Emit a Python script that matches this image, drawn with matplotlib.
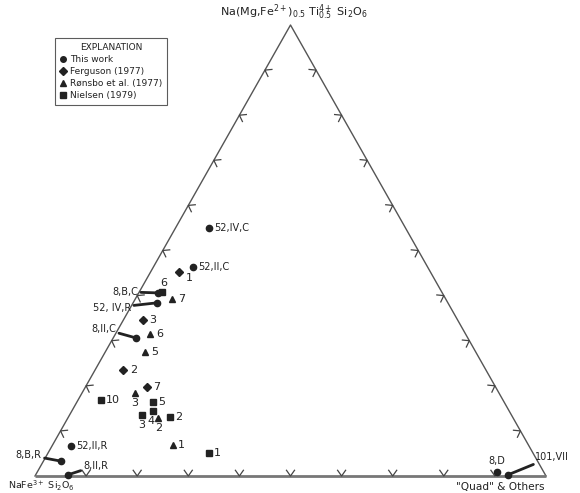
import numpy as np
import matplotlib
matplotlib.use("Agg")
import matplotlib.pyplot as plt
from matplotlib.lines import Line2D

# ---------------- data (percent of apex Ti-component and of "Quad") ----------------
this_labels = ["52,IV,C", "52,II,C", "8,B,C", "52, IV,R", "8,II,C",
               "52,II,R", "8,B,R", "8,II,R", "8,D", "101,VII"]
this_ti     = [55.0, 46.3, 40.6, 38.4, 30.6, 6.7, 3.3, 0.3, 0.9, 0.3]
this_quad   = [6.5, 7.8, 3.8, 4.7, 4.5, 3.7, 3.4, 6.4, 90.0, 92.5]

ferg_labels = ["1", "3", "2", "7"]
ferg_ti     = [45.2, 34.6, 23.5, 19.7]
ferg_quad   = [5.6, 3.8, 5.5, 12.0]

rons_labels = ["7", "6", "5", "3", "2", "1"]
rons_ti     = [39.2, 31.5, 27.5, 18.4, 12.9, 6.9]
rons_quad   = [7.2, 6.8, 7.8, 10.4, 17.6, 23.6]

niel_labels = ["6", "10", "5", "3", "4", "2", "1"]
niel_ti     = [40.8, 16.9, 16.4, 13.5, 14.4, 13.1, 5.1]
niel_quad   = [4.5, 4.5, 14.9, 14.2, 15.9, 19.9, 31.5]

legend_names = ["This work", "Ferguson (1977)", "R\u00f8nsbo et al. (1977)", "Nielsen (1979)"]
tick_fracs = [0.1, 0.2, 0.3, 0.4, 0.5, 0.6, 0.7, 0.8, 0.9]

# ---------------- layout ----------------
W_BASE, H_TRI = 511.0, 451.0   # triangle size in pixels
INK = "#222222"
FONT = "DejaVu Sans"
FS = 7

def to_xy(ti, quad):
    t = np.asarray(ti, float) / 100.0
    q = np.asarray(quad, float) / 100.0
    return (q + t / 2.0) * W_BASE, t * H_TRI

fig = plt.figure(figsize=(5.8, 4.93), dpi=100)
ax = fig.add_axes([0, 0, 1, 1])
ax.set_xlim(-35, 545)
ax.set_ylim(-17, 476)
ax.axis("off")

A = np.array([0.0, 0.0])            # NaFe3+Si2O6
Q = np.array([W_BASE, 0.0])         # Quad
T = np.array([W_BASE / 2, H_TRI])   # apex

ax.plot([A[0], T[0], Q[0]], [A[1], T[1], Q[1]], color="#555555", lw=1.0, zorder=1)
ax.plot([A[0], Q[0]], [A[1], Q[1]], color="#777777", lw=2.0, zorder=1, solid_capstyle="butt")

# chevron ticks
centroid = (A + Q + T) / 3.0
L, th = 7.0, np.deg2rad(35)
for P0, P1 in [(A, Q), (A, T), (T, Q)]:
    d = (P1 - P0) / np.linalg.norm(P1 - P0)
    n = np.array([-d[1], d[0]])
    if np.dot(centroid - P0, n) < 0:
        n = -n
    for f in tick_fracs:
        P = P0 + f * (P1 - P0)
        a1 = P + L * (np.cos(th) * n + np.sin(th) * d)
        a2 = P + L * (np.cos(th) * n - np.sin(th) * d)
        ax.plot([a1[0], P[0], a2[0]], [a1[1], P[1], a2[1]], color="#444444", lw=0.9, zorder=1)

# vertex labels
ax.text(T[0] + 3, T[1] + 13, r"Na(Mg,Fe$^{2+}$)$_{0.5}$ Ti$^{4+}_{0.5}$ Si$_2$O$_6$",
        ha="center", va="center", fontsize=8, color=INK, family=FONT)
ax.text(A[0] - 27, A[1] - 10, r"NaFe$^{3+}$ Si$_2$O$_6$", ha="left", va="center",
        fontsize=6.8, color=INK, family=FONT)
ax.text(Q[0] - 1, Q[1] - 11, "\"Quad\" & Others", ha="right", va="center",
        fontsize=7.6, color=INK, family=FONT)

# label offsets (pixels): (dx, dy, ha, va, leader)
this_off = {
    "52,IV,C": (5, 0, "left", "center", False),
    "52,II,C": (5, 0, "left", "center", False),
    "8,B,C": (-20, 1, "right", "center", True),
    "52, IV,R": (-26, -5, "right", "center", True),
    "8,II,C": (-20, 9, "right", "center", True),
    "52,II,R": (5, 0, "left", "center", False),
    "8,B,R": (-19, 6, "right", "center", True),
    "8,II,R": (15, 9, "left", "center", True),
    "8,D": (0, 11, "center", "center", False),
    "101,VII": (27, 18, "left", "center", True),
}
ferg_off = {"1": (7, -6), "3": (6, 0), "2": (7, 0), "7": (6, 0)}
rons_off = {"7": (6, 0), "6": (6, 0), "5": (6, 0), "3": (0, -10), "2": (1, -10), "1": (5, 0)}
niel_off = {"6": (2, 9), "10": (5, 0), "5": (5, 0), "3": (0, -10), "4": (-2, -10), "2": (5, 0), "1": (5, 0)}

mk = dict(color=INK, ls="none", zorder=3)
x, y = to_xy(this_ti, this_quad)
ax.plot(x, y, marker="o", ms=4.5, **mk)
for xi, yi, lab in zip(x, y, this_labels):
    dx, dy, ha, va, lead = this_off[lab]
    kw = {}
    if lead:
        kw["arrowprops"] = dict(arrowstyle="-", lw=2.0, color=INK, shrinkA=0, shrinkB=0)
    ax.annotate(lab, (xi, yi), xytext=(dx, dy), textcoords="offset pixels",
                ha=ha, va=va, fontsize=FS, color=INK, family=FONT, **kw)

for ti, qu, labs, offs, m, ms in [(ferg_ti, ferg_quad, ferg_labels, ferg_off, "D", 4.5),
                                  (rons_ti, rons_quad, rons_labels, rons_off, "^", 5),
                                  (niel_ti, niel_quad, niel_labels, niel_off, "s", 4.5)]:
    x, y = to_xy(ti, qu)
    ax.plot(x, y, marker=m, ms=ms, **mk)
    for xi, yi, lab in zip(x, y, labs):
        dx, dy = offs[lab]
        ha = "left" if dx > 3 else "center"
        ax.annotate(lab, (xi, yi), xytext=(dx, dy), textcoords="offset pixels",
                    ha=ha, va="center", fontsize=FS + 1, color=INK, family=FONT)

handles = [Line2D([], [], marker=m, ms=s, color=INK, ls="none")
           for m, s in [("o", 4), ("D", 4), ("^", 4.5), ("s", 4)]]
leg = fig.legend(handles, legend_names, title="EXPLANATION", loc="upper left",
                 bbox_to_anchor=(55 / 580, 1 - 38 / 493), borderaxespad=0,
                 fontsize=6.5, title_fontsize=6.5, handlelength=0.8, handletextpad=0.4,
                 labelspacing=0.35, borderpad=0.5, fancybox=False, frameon=True,
                 alignment="center")
leg.get_frame().set_edgecolor("#333333")
leg.get_frame().set_linewidth(0.8)
for t in leg.get_texts():
    t.set_color(INK)
leg.get_title().set_color(INK)

fig.savefig("out.png", dpi=100, facecolor="white")
